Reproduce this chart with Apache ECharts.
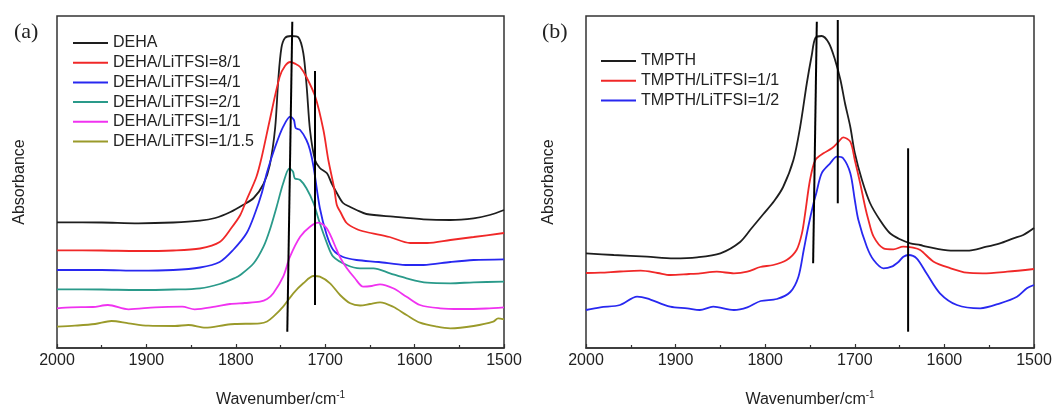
<!DOCTYPE html>
<html>
<head>
<meta charset="utf-8">
<script src="https://cdn.jsdelivr.net/npm/echarts@6/dist/echarts.min.js"></script>
<style>
  html, body { margin: 0; padding: 0; background: #fff; }
  #chart { width: 1055px; height: 405px; }
</style>
</head>
<body>
<div id="chart"></div>
<script>
// 谱图数据：[波数 cm-1, 吸光度(任意单位)]
const xTicks = [2000, 1900, 1800, 1700, 1600, 1500]

// (a) DEHA 系列
const namesA = ['DEHA', 'DEHA/LiTFSI=8/1', 'DEHA/LiTFSI=4/1', 'DEHA/LiTFSI=2/1', 'DEHA/LiTFSI=1/1', 'DEHA/LiTFSI=1/1.5']
const deha = [[2000,1.257],[1950,1.255],[1909,1.247],[1870,1.255],[1840,1.273],[1823,1.30],[1806,1.36],[1792,1.43],[1780,1.50],[1769,1.64],[1762,1.83],[1756,2.20],[1752.5,2.68],[1749,3.0],[1745,3.10],[1738,3.12],[1730,3.107],[1724.5,2.95],[1720.7,2.61],[1717,2.18],[1711.4,1.88],[1706,1.80],[1698,1.747],[1693,1.65],[1687,1.55],[1680,1.45],[1672,1.41],[1665,1.38],[1654,1.34],[1624,1.313],[1590,1.287],[1560,1.28],[1534,1.297],[1516,1.33],[1500,1.38]]
const deha81 = [[2000,0.977],[1950,0.975],[1909,0.97],[1870,0.975],[1840,0.995],[1818,1.06],[1805,1.20],[1795,1.33],[1788,1.48],[1777,1.71],[1771,1.91],[1762,2.28],[1751,2.71],[1745,2.82],[1739,2.86],[1733,2.84],[1728,2.81],[1721,2.71],[1711,2.51],[1702,2.18],[1696.5,1.88],[1690,1.60],[1687,1.43],[1683,1.36],[1676,1.25],[1665,1.19],[1654,1.16],[1628,1.11],[1605,1.05],[1586,1.05],[1560,1.08],[1534,1.11],[1500,1.15]]
const deha41 = [[2000,0.78],[1950,0.78],[1909,0.773],[1870,0.78],[1840,0.805],[1818,0.86],[1803,0.98],[1788,1.147],[1778.5,1.347],[1771,1.547],[1765,1.76],[1756,2.01],[1747,2.213],[1739,2.313],[1735,2.28],[1733,2.20],[1728,2.18],[1721,2.08],[1717,1.98],[1713,1.81],[1706,1.40],[1698.3,1.13],[1691,0.98],[1680,0.91],[1665,0.88],[1640,0.86],[1610,0.83],[1590,0.83],[1560,0.86],[1534,0.88],[1500,0.887]]
const deha21 = [[2000,0.587],[1950,0.585],[1909,0.58],[1870,0.585],[1840,0.597],[1818,0.64],[1801,0.70],[1795,0.73],[1780,0.847],[1769,1.013],[1762,1.18],[1754.3,1.413],[1747,1.647],[1740,1.797],[1736,1.763],[1734,1.697],[1728,1.68],[1721,1.597],[1713,1.447],[1706,1.247],[1698,1.047],[1691,0.913],[1676,0.83],[1661,0.797],[1646,0.797],[1627.5,0.747],[1609,0.697],[1586,0.653],[1560,0.647],[1534,0.657],[1500,0.663]]
const deha11 = [[2000,0.397],[1984,0.407],[1960,0.41],[1943,0.43],[1920,0.387],[1890,0.407],[1860,0.413],[1846,0.387],[1823,0.413],[1806.5,0.44],[1790,0.45],[1773,0.463],[1765,0.49],[1758,0.547],[1747,0.713],[1739.4,0.913],[1728,1.113],[1717,1.213],[1707.7,1.253],[1698.3,1.197],[1687,0.98],[1683,0.90],[1676,0.80],[1667,0.70],[1657.4,0.613],[1648,0.62],[1638.7,0.637],[1624,0.597],[1609,0.513],[1594,0.43],[1571.6,0.397],[1549,0.39],[1520,0.395],[1500,0.407]]
const deha115 = [[2000,0.213],[1980,0.223],[1957.5,0.24],[1939,0.27],[1920,0.247],[1898,0.223],[1868,0.22],[1853,0.23],[1834,0.203],[1812,0.23],[1801,0.24],[1773,0.247],[1765,0.265],[1758,0.313],[1747,0.413],[1735.7,0.547],[1724.5,0.647],[1713,0.72],[1706,0.713],[1694.6,0.647],[1683.4,0.53],[1672,0.447],[1661,0.425],[1650,0.44],[1638.7,0.457],[1624,0.413],[1609,0.33],[1594,0.253],[1575,0.213],[1560,0.197],[1534,0.22],[1512,0.263],[1506.6,0.297],[1500,0.287]]
// (a) 竖直标记线
const marksA = [[[1736.8,3.263],[1742.4,0.163]], [[1711.4,2.77],[1711.4,0.43]]]

// (b) TMPTH 系列
const namesB = ['TMPTH', 'TMPTH/LiTFSI=1/1', 'TMPTH/LiTFSI=1/2']
const tmpth = [[2000,0.947],[1969,0.93],[1932,0.913],[1902,0.897],[1876,0.907],[1850,0.947],[1828,1.06],[1815,1.20],[1802,1.34],[1790,1.47],[1780,1.61],[1768.5,1.88],[1761,2.21],[1753.5,2.65],[1748,2.93],[1744,3.10],[1737,3.12],[1729,3.05],[1722,2.88],[1716,2.68],[1711,2.45],[1705,2.21],[1700,1.95],[1692,1.68],[1683,1.45],[1672,1.28],[1661,1.15],[1649.5,1.087],[1638,1.047],[1627,1.03],[1620,1.013],[1593,0.973],[1575,0.973],[1553,1.013],[1538,1.047],[1523,1.097],[1512,1.13],[1500,1.20]]
const tmpth11 = [[2000,0.75],[1984,0.753],[1962,0.765],[1939,0.773],[1920,0.75],[1906,0.73],[1885,0.74],[1872.6,0.747],[1854,0.763],[1835,0.747],[1820,0.763],[1805.6,0.81],[1791,0.83],[1776,0.88],[1765,0.98],[1759,1.147],[1755.4,1.347],[1750,1.68],[1744,1.88],[1735,1.947],[1725.6,1.997],[1718,2.063],[1713,2.107],[1705,2.063],[1700,1.88],[1694,1.647],[1688.5,1.413],[1684.8,1.28],[1679,1.113],[1668,0.997],[1657,0.987],[1646,1.013],[1635,1.003],[1627,0.98],[1612,0.863],[1593,0.797],[1575,0.753],[1557,0.747],[1530,0.763],[1500,0.79]]
const tmpth12 = [[2000,0.38],[1984,0.407],[1962,0.43],[1943,0.513],[1932,0.497],[1906,0.413],[1887,0.397],[1873,0.38],[1858,0.413],[1835,0.38],[1820,0.407],[1805,0.47],[1787,0.49],[1772,0.56],[1763,0.71],[1757,0.98],[1752,1.21],[1746,1.45],[1743,1.547],[1737,1.747],[1727.5,1.847],[1720,1.913],[1713,1.897],[1705,1.747],[1700,1.48],[1696,1.28],[1686.6,1.013],[1679,0.88],[1668,0.797],[1659,0.813],[1651,0.863],[1645.8,0.913],[1640,0.93],[1631,0.897],[1620,0.747],[1605,0.547],[1586,0.43],[1560,0.397],[1537.8,0.447],[1519,0.513],[1508,0.597],[1500,0.63]]
const marksB = [[[1742.4,3.263],[1746.5,0.847]], [[1719,3.28],[1719,1.447]], [[1640.5,1.997],[1640.5,0.163]]]

const colorsA = ['#1e1e1e', '#f02828', '#2828f0', '#2a9a8a', '#f032f0', '#9a9a2a']
const colorsB = ['#1e1e1e', '#f02828', '#2828f0']

const font = 'Arial, "Liberation Sans", sans-serif'
const chart = echarts.init(document.getElementById('chart'))

function xAxisOf(idx) {
  return {
    type: 'value', gridIndex: idx, min: 1500, max: 2000, interval: 100, inverse: true,
    axisLine: { show: true, lineStyle: { color: '#333', width: 1.5 } },
    axisTick: { show: true, inside: true, length: 4, lineStyle: { color: '#333', width: 1.2 } },
    minorTick: { show: true, splitNumber: 2, length: 3, lineStyle: { color: '#333', width: 1.2 } },
    axisLabel: { fontSize: 16, color: '#222', fontFamily: font, margin: 5, formatter: (v) => String(v) },
    splitLine: { show: false },
    name: 'Wavenumber/cm{sup|-1}',
    nameLocation: 'middle',
    nameGap: 42,
    nameTextStyle: {
      fontSize: 16, color: '#222', fontFamily: font,
      rich: { sup: { fontSize: 10, fontFamily: font, color: '#222', padding: [0, 0, 10, 0] } },
    },
  }
}
function yAxisOf(idx) {
  return {
    type: 'value', gridIndex: idx, min: 0, max: 3.32,
    axisLine: { show: false }, axisTick: { show: false }, axisLabel: { show: false },
    splitLine: { show: false },
    name: 'Absorbance', nameLocation: 'middle', nameGap: 29,
    nameTextStyle: { fontSize: 16, color: '#222', fontFamily: font },
  }
}
function curve(name, data, color, idx) {
  return {
    name, type: 'line', data, xAxisIndex: idx, yAxisIndex: idx,
    symbol: 'none', smooth: 0.3, color,
    lineStyle: { width: 1.8, color },
  }
}
function mark(data, idx, i) {
  return {
    name: 'mark' + idx + '-' + i, type: 'line', data, xAxisIndex: idx, yAxisIndex: idx,
    symbol: 'none', lineStyle: { width: 2, color: '#000' }, z: 5,
  }
}

const seriesA = [deha, deha81, deha41, deha21, deha11, deha115]
const seriesB = [tmpth, tmpth11, tmpth12]
const series = []
seriesA.forEach((d, i) => series.push(curve(namesA[i], d, colorsA[i], 0)))
seriesB.forEach((d, i) => series.push(curve(namesB[i], d, colorsB[i], 1)))
marksA.forEach((d, i) => series.push(mark(d, 0, i)))
marksB.forEach((d, i) => series.push(mark(d, 1, i)))

const legendBase = {
  orient: 'vertical', icon: 'rect', itemWidth: 35, itemHeight: 2, itemGap: 3.7,
  textStyle: { fontSize: 16, color: '#222', fontFamily: font, lineHeight: 16 },
}

chart.setOption({
  animation: false,
  backgroundColor: '#fff',
  title: [
    { text: '(a)', left: 9, top: 16, textStyle: { fontFamily: '"Liberation Serif", "Times New Roman", serif', fontSize: 22, fontWeight: 'normal', color: '#222' } },
    { text: '(b)', left: 537, top: 16, textStyle: { fontFamily: '"Liberation Serif", "Times New Roman", serif', fontSize: 22, fontWeight: 'normal', color: '#222' } },
  ],
  legend: [
    Object.assign({ left: 68, top: 30, data: namesA }, legendBase),
    Object.assign({ left: 596, top: 48, data: namesB }, legendBase),
  ],
  grid: [
    { left: 57, top: 16, width: 447, height: 332, show: true, borderColor: '#333', borderWidth: 1.5, outerBoundsMode: 'none' },
    { left: 586, top: 16, width: 448, height: 332, show: true, borderColor: '#333', borderWidth: 1.5, outerBoundsMode: 'none' },
  ],
  xAxis: [xAxisOf(0), xAxisOf(1)],
  yAxis: [yAxisOf(0), yAxisOf(1)],
  series,
})
</script>
</body>
</html>
